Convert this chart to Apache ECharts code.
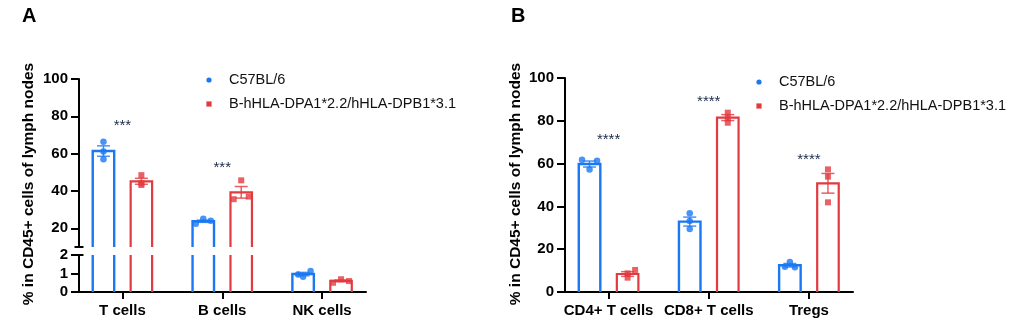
<!DOCTYPE html>
<html><head><meta charset="utf-8">
<script src="https://cdn.jsdelivr.net/npm/echarts@6/dist/echarts.min.js"></script>
<style>html,body{margin:0;padding:0;background:#fff}#c{width:1028px;height:334px}</style>
</head><body><div id="c"></div>
<script>
// ---------- data ----------
const groups = ['C57BL/6', 'B-hHLA-DPA1*2.2/hHLA-DPB1*3.1'];
const catsA = ['T cells', 'B cells', 'NK cells'];
const catsB = ['CD4+ T cells', 'CD8+ T cells', 'Tregs'];

const meanA_wt = [61.4, 23.8, 0.97];
const meanA_hu = [45.2, 39.3, 0.60];
const semA_wt = [2.8, 0.6, 0.09];
const semA_hu = [1.6, 3.1, 0.05];
const ptsA_wt = [[66.4, 61.1, 57.0], [22.4, 25.2, 24.1], [0.95, 0.83, 1.14]];
const ptsA_hu = [[48.5, 44.2, 43.2], [35.6, 45.7, 37.0], [0.50, 0.69, 0.59]];
const sigA = ['***', '***', ''];
const sigA_y = [76.6, 53.9, null];

const meanB_wt = [59.8, 32.9, 12.5];
const meanB_hu = [8.4, 81.5, 50.8];
const semB_wt = [1.4, 2.1, 0.8];
const semB_hu = [1.1, 1.4, 4.6];
const ptsB_wt = [[61.8, 57.2, 61.3], [36.8, 33.2, 29.4], [14.0, 11.8, 11.6]];
const ptsB_hu = [[8.7, 6.7, 10.3], [83.8, 81.2, 79.1], [57.3, 53.9, 41.9]];
const sigB = ['****', '****', '****'];
const sigB_y = [72.3, 90.2, 63.1];

const ticksA_upper = [20, 40, 60, 80, 100];
const ticksA_lower = [0, 1, 2];
const ticksB = [0, 20, 40, 60, 80, 100];
const catTicks = [1, 2, 3];
const yTitle = '% in CD45+ cells of lymph nodes';

// ---------- layout / style ----------
const jitA_wt = [[0, 0, 0], [-0.075, 0, 0.075], [-0.05, 0, 0.075]];
const jitA_hu = [[0, 0, 0], [-0.075, 0, 0.075], [-0.08, 0, 0.08]];
const jitB_wt = [[-0.075, 0, 0.075], [0, 0, 0], [0, -0.05, 0.05]];
const jitB_hu = [[0, 0, 0.075], [0, 0, 0], [0, 0, 0]];

const BLUE = '#1a78f2', RED = '#e23a3f';
const FONT = '"Liberation Sans", Arial, sans-serif';
const BW = 0.215, OFF = 0.19, CAP = 0.065;
const XMIN = 0.565, XMAX = 3.44;

function barsSeries(name, color, lw, means, sems, xi, yi, off, lo, hi) {
  return {
    type: 'custom', name, xAxisIndex: xi, yAxisIndex: yi, z: 2, silent: true,
    data: means.map((m, i) => [i + 1, m, sems[i]]),
    renderItem(params, api) {
      const x = api.value(0), v = api.value(1), s = api.value(2);
      if (v <= lo) return null;
      const top = Math.min(v, hi);
      const L = api.coord([x + off - BW / 2, lo]);
      const R = api.coord([x + off + BW / 2, top]);
      const yb = L[1], yt = R[1];
      const st = { stroke: color, lineWidth: lw, fill: null, lineJoin: 'miter', lineCap: 'butt' };
      const ch = [];
      if (v <= hi) {
        ch.push({ type: 'polyline', shape: { points: [[L[0], yb], [L[0], yt], [R[0], yt], [R[0], yb]] }, style: st });
        const c = api.coord([x + off, v]);
        const e1 = api.coord([x + off, Math.min(v + s, hi)]);
        const e0 = api.coord([x + off, Math.max(v - s, lo)]);
        const cl = api.coord([x + off - CAP, v])[0], cr = api.coord([x + off + CAP, v])[0];
        const es = { stroke: color, lineWidth: 1.5, opacity: 0.8 };
        ch.push({ type: 'line', shape: { x1: c[0], y1: e0[1], x2: c[0], y2: e1[1] }, style: es });
        ch.push({ type: 'line', shape: { x1: cl, y1: e1[1], x2: cr, y2: e1[1] }, style: es });
        ch.push({ type: 'line', shape: { x1: cl, y1: e0[1], x2: cr, y2: e0[1] }, style: es });
      } else {
        ch.push({ type: 'line', shape: { x1: L[0], y1: yb, x2: L[0], y2: yt }, style: st });
        ch.push({ type: 'line', shape: { x1: R[0], y1: yb, x2: R[0], y2: yt }, style: st });
      }
      return { type: 'group', children: ch };
    }
  };
}

function ptsSeries(name, color, symbol, pts, jit, xi, yi, off, lo, hi) {
  const data = [];
  pts.forEach((arr, i) => arr.forEach((v, j) => {
    if (v > lo && v <= hi) data.push([i + 1 + off + jit[i][j], v]);
  }));
  return {
    type: 'scatter', name, xAxisIndex: xi, yAxisIndex: yi, z: 4, silent: true,
    symbol, symbolSize: symbol === 'circle' ? 6.5 : 6, itemStyle: { color }, data
  };
}

function sigSeries(labels, ys, xi, yi) {
  const data = [];
  labels.forEach((t, i) => { if (t) data.push([i + 1, ys[i], i]); });
  return {
    type: 'custom', xAxisIndex: xi, yAxisIndex: yi, z: 5, silent: true, data,
    renderItem(params, api) {
      const p = api.coord([api.value(0), api.value(1)]);
      return { type: 'text', x: p[0], y: p[1] + 3,
        style: { text: labels[api.value(2)], fill: '#1c2a48', fontSize: 15, fontFamily: FONT,
          align: 'center', verticalAlign: 'middle' } };
    }
  };
}

const axisLineStyle = { color: '#000', width: 2 };
function yAxis(gridIndex, min, max, ticks) {
  return {
    type: 'value', gridIndex, min, max, interval: (max - min) >= 50 ? 20 : 1,
    axisLine: { show: true, lineStyle: axisLineStyle },
    axisTick: { show: true, length: 8, lineStyle: axisLineStyle, customValues: ticks },
    axisLabel: { customValues: ticks, color: '#000', fontSize: 15, fontWeight: 'bold', fontFamily: FONT, margin: 11 },
    splitLine: { show: false }
  };
}
function xAxis(gridIndex, cats, show) {
  return {
    type: 'value', gridIndex, min: XMIN, max: XMAX, show,
    axisLine: { show: true, onZero: false, lineStyle: axisLineStyle },
    axisTick: { show: true, length: 7, lineStyle: axisLineStyle, customValues: catTicks },
    axisLabel: { customValues: catTicks, formatter: v => cats[Math.round(v) - 1] || '',
      color: '#000', fontSize: 15, fontWeight: 'bold', fontFamily: FONT, margin: 11 },
    splitLine: { show: false }
  };
}

const chart = echarts.init(document.getElementById('c'), null, { renderer: 'canvas' });

const series = [
  barsSeries(groups[0], BLUE, 2.4, meanA_wt, semA_wt, 0, 0, -OFF, 10, 100),
  barsSeries(groups[1], RED, 2.2, meanA_hu, semA_hu, 0, 0, OFF, 10, 100),
  ptsSeries(groups[0], BLUE, 'circle', ptsA_wt, jitA_wt, 0, 0, -OFF, 10, 100),
  ptsSeries(groups[1], RED, 'rect', ptsA_hu, jitA_hu, 0, 0, OFF, 10, 100),
  sigSeries(sigA, sigA_y, 0, 0),
  barsSeries(groups[0], BLUE, 2.4, meanA_wt, semA_wt, 1, 1, -OFF, 0, 2),
  barsSeries(groups[1], RED, 2.2, meanA_hu, semA_hu, 1, 1, OFF, 0, 2),
  ptsSeries(groups[0], BLUE, 'circle', ptsA_wt, jitA_wt, 1, 1, -OFF, 0, 2),
  ptsSeries(groups[1], RED, 'rect', ptsA_hu, jitA_hu, 1, 1, OFF, 0, 2),
  barsSeries(groups[0], BLUE, 2.4, meanB_wt, semB_wt, 2, 2, -OFF, 0, 100),
  barsSeries(groups[1], RED, 2.2, meanB_hu, semB_hu, 2, 2, OFF, 0, 100),
  ptsSeries(groups[0], BLUE, 'circle', ptsB_wt, jitB_wt, 2, 2, -OFF, 0, 100),
  ptsSeries(groups[1], RED, 'rect', ptsB_hu, jitB_hu, 2, 2, OFF, 0, 100),
  sigSeries(sigB, sigB_y, 2, 2)
];

function legendGraphics(x, y0, y1) {
  return [
    { type: 'circle', shape: { cx: x, cy: y0, r: 2.6 }, style: { fill: BLUE } },
    { type: 'rect', shape: { x: x - 2.6, y: y1 - 2.6, width: 5.2, height: 5.2 }, style: { fill: RED } },
    { type: 'text', x: x + 20, y: y0, style: { text: groups[0], fill: '#111', fontSize: 14.5, fontFamily: FONT, textVerticalAlign: 'middle' } },
    { type: 'text', x: x + 20, y: y1, style: { text: groups[1], fill: '#111', fontSize: 14.5, fontFamily: FONT, textVerticalAlign: 'middle' } }
  ];
}

const graphic = [
  { type: 'text', x: 22, y: 6, style: { text: 'A', fill: '#000', fontSize: 20, fontWeight: 'bold', fontFamily: FONT } },
  { type: 'text', x: 511, y: 6, style: { text: 'B', fill: '#000', fontSize: 20, fontWeight: 'bold', fontFamily: FONT } },
  { type: 'text', x: 29, y: 184, rotation: Math.PI / 2,
    style: { text: yTitle, fill: '#000', fontSize: 15.5, fontWeight: 'bold', fontFamily: FONT, textAlign: 'center', textVerticalAlign: 'middle' } },
  { type: 'text', x: 516, y: 184, rotation: Math.PI / 2,
    style: { text: yTitle, fill: '#000', fontSize: 15.5, fontWeight: 'bold', fontFamily: FONT, textAlign: 'center', textVerticalAlign: 'middle' } },
  ...legendGraphics(209, 80, 104),
  ...legendGraphics(759, 82, 106)
];

chart.setOption({
  animation: false,
  backgroundColor: '#fff',
  grid: [
    { left: 79, top: 79, width: 287, height: 168 },
    { left: 79, top: 255, width: 287, height: 37 },
    { left: 565, top: 78, width: 288, height: 214 }
  ],
  xAxis: [xAxis(0, catsA, false), xAxis(1, catsA, true), xAxis(2, catsB, true)],
  yAxis: [yAxis(0, 10, 100, ticksA_upper), yAxis(1, 0, 2, ticksA_lower), yAxis(2, 0, 100, ticksB)],
  graphic,
  series
});

// axis-break marks on panel A, placed through the library's own scales
const pUp = chart.convertToPixel({ gridIndex: 0 }, [XMIN, 10]);
const pLo = chart.convertToPixel({ gridIndex: 1 }, [XMIN, 2]);
chart.setOption({
  graphic: graphic.concat([
    { type: 'line', shape: { x1: pUp[0] - 4.5, y1: pUp[1], x2: pUp[0] + 4.5, y2: pUp[1] }, style: { stroke: '#000', lineWidth: 2 } },
    { type: 'line', shape: { x1: pLo[0] - 4.5, y1: pLo[1], x2: pLo[0] + 4.5, y2: pLo[1] }, style: { stroke: '#000', lineWidth: 2 } }
  ])
});
</script>
</body></html>
